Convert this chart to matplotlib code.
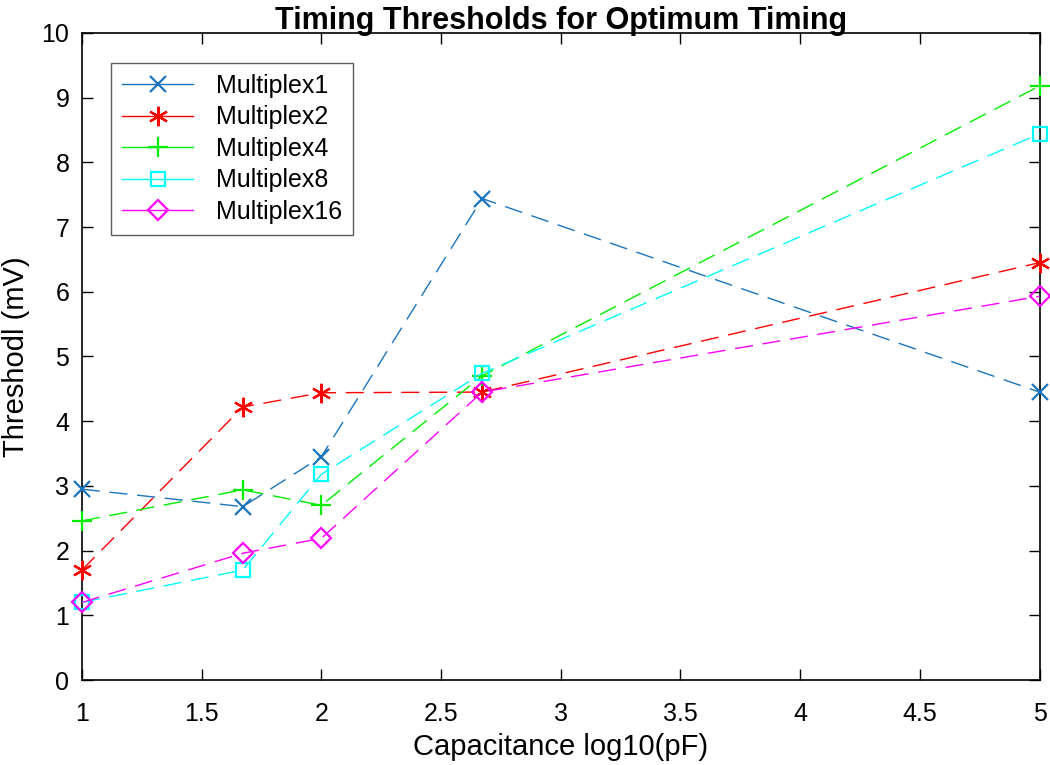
import matplotlib
matplotlib.use('Agg')
import matplotlib.pyplot as plt
from matplotlib.lines import Line2D

# capacitance points (log10 of pF)
cap = [1.0, 1.672, 2.0, 2.672, 5.0]

mux1 = [2.95, 2.68, 3.45, 7.44, 4.45]
mux2 = [1.70, 4.22, 4.44, 4.45, 6.45]
mux4 = [2.46, 2.94, 2.70, 4.70, 9.18]
mux8 = [1.20, 1.70, 3.18, 4.74, 8.44]
mux16 = [1.20, 1.96, 2.19, 4.45, 5.93]

labels = ['Multiplex1', 'Multiplex2', 'Multiplex4', 'Multiplex8', 'Multiplex16']
series = [mux1, mux2, mux4, mux8, mux16]
colors = ['#1a74bd', '#ff0000', '#00ee00', '#00ffff', '#ff00ff']
markers = ['x', (6, 2, 0), '+', 's', 'D']
msizes = [11, 14, 15, 10, 10]

plt.rcParams['font.family'] = ['Liberation Sans', 'DejaVu Sans']

fig = plt.figure(figsize=(10.5, 7.65), dpi=100)
ax = fig.add_axes([0.078, 0.111, 0.912, 0.846])

handles = []
for ys, c, m, s, lab in zip(series, colors, markers, msizes, labels):
    ax.plot(cap, ys, color=c, lw=1.0, dashes=(13, 7), clip_on=False,
            marker=m, markersize=s, markerfacecolor='none',
            markeredgecolor=c, markeredgewidth=1.6, zorder=3)
    handles.append(Line2D([0], [0], color=c, lw=1.0, marker=m,
                          markersize=s, markerfacecolor='none',
                          markeredgecolor=c, markeredgewidth=1.6, label=lab))

ax.set_xlim(1, 5)
ax.set_ylim(0, 10)
ax.set_xticks([1, 1.5, 2, 2.5, 3, 3.5, 4, 4.5, 5])
ax.set_xticklabels(['1', '1.5', '2', '2.5', '3', '3.5', '4', '4.5', '5'])
ax.set_yticks(range(0, 11))
ax.tick_params(direction='in', top=True, right=True, length=8, width=1,
               labelsize=18)
ax.tick_params(axis='y', pad=9)
ax.tick_params(axis='x', pad=16)
for sp in ax.spines.values():
    sp.set_linewidth(1.2)

ax.set_xlabel('Capacitance log10(pF)', fontsize=21, labelpad=5)
ax.set_ylabel('Threshodl (mV)', fontsize=21, labelpad=8)
ax.set_title('Timing Thresholds for Optimum Timing', fontsize=22, fontweight='bold', pad=3)

leg = ax.legend(handles=handles, loc='upper left', bbox_to_anchor=(0.030, 0.954),
                borderaxespad=0, fontsize=18, frameon=True, fancybox=False,
                edgecolor='#333333', handlelength=2.85, handletextpad=0.9,
                labelspacing=0.3, borderpad=0.45)
leg.get_frame().set_linewidth(1.0)

fig.savefig('out.png', dpi=100)
